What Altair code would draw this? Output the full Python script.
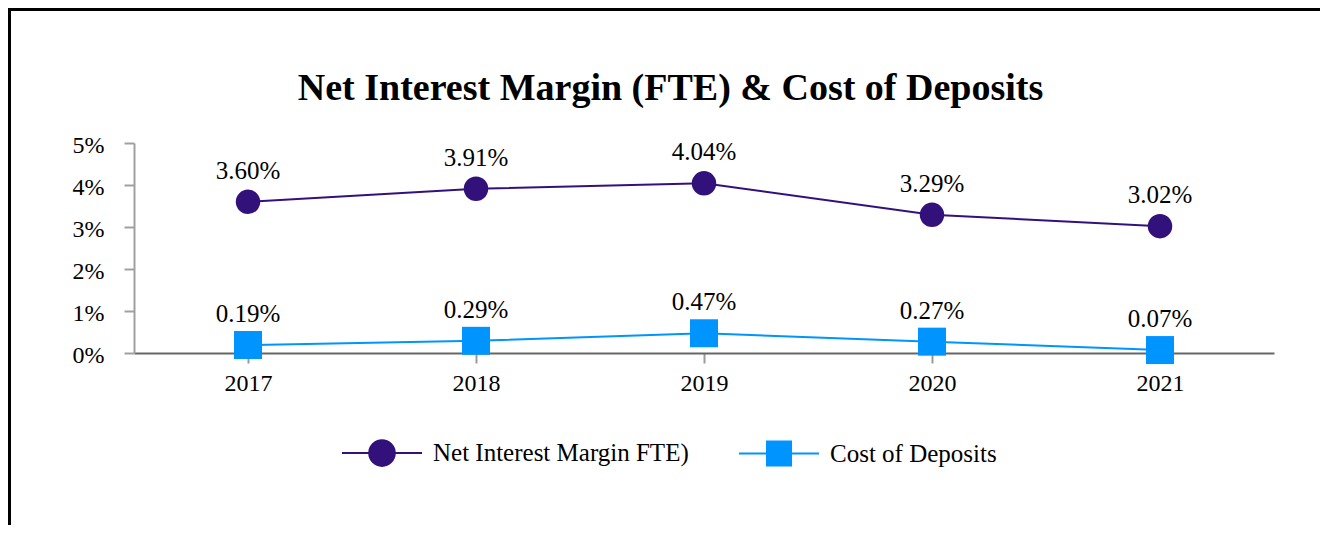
import altair as alt
import pandas as pd

years = ["2017", "2018", "2019", "2020", "2021"]
nim_values = [3.60, 3.91, 4.04, 3.29, 3.02]
cod_values = [0.19, 0.29, 0.47, 0.27, 0.07]
series_names = ["Net Interest Margin FTE)", "Cost of Deposits"]
series_colors = ["#33117a", "#0094ff"]
y_ticks = [0, 1, 2, 3, 4, 5]

FONT = "Liberation Serif"

df = pd.DataFrame({
    "year": years * 2,
    "value": nim_values + cod_values,
    "series": [series_names[0]] * len(years) + [series_names[1]] * len(years),
})

x_enc = alt.X("year:O", sort=years, scale=alt.Scale(type="point", padding=0.5),
              axis=alt.Axis(title=None, labelAngle=0, domainColor="#666666", domainWidth=2,
                            tickColor="#9a9a9a", tickWidth=2, tickSize=10,
                            labelFont=FONT, labelFontSize=24, labelColor="black",
                            labelPadding=8, grid=False))
y_enc = alt.Y("value:Q", scale=alt.Scale(domain=[0, 5], nice=False),
              axis=alt.Axis(title=None, values=y_ticks, labelExpr="datum.value + '%'",
                            domainColor="#a0a0a0", domainWidth=2, tickColor="#a0a0a0",
                            tickWidth=2, tickSize=10, labelFont=FONT, labelFontSize=24,
                            labelColor="black", labelPadding=20, labelOffset=2, grid=False))

base = alt.Chart(df).encode(x=x_enc, y=y_enc)

layers = []
shapes = ["circle", "square"]
sizes = [600, 784]
for name, col, shp, sz in zip(series_names, series_colors, shapes, sizes):
    sub = base.transform_filter(alt.datum.series == name)
    layers.append(sub.mark_line(color=col, strokeWidth=2))
    layers.append(sub.mark_point(shape=shp, filled=True, size=sz, color=col, opacity=1))
    layers.append(
        sub.transform_calculate(label="format(datum.value, '.2f') + '%'")
        .mark_text(font=FONT, fontSize=25, color="black", baseline="alphabetic", dy=-23)
        .encode(text="label:N")
    )

circle_path = ("M -1 0 L 1 0 M -0.32 0 A 0.32 0.32 0 1 0 0.32 0 "
               "A 0.32 0.32 0 1 0 -0.32 0 Z")
square_path = ("M -1 0 L 1 0 M -0.3 -0.3 L 0.3 -0.3 L 0.3 0.3 L -0.3 0.3 Z")

legend_def = alt.Legend(title=None, orient="none", legendX=207, legendY=269,
                        direction="horizontal", labelFont=FONT, labelFontSize=25,
                        labelColor="black", labelLimit=600, labelOffset=10,
                        columnPadding=46, symbolStrokeWidth=2, symbolSize=6400,
                        padding=0)
legend_layer = alt.Chart(df).transform_filter("false").mark_point(
    filled=True, size=6400, strokeWidth=2, opacity=1
).encode(
    fill=alt.Fill("series:N", scale=alt.Scale(domain=series_names, range=series_colors),
                  legend=legend_def),
    stroke=alt.Stroke("series:N", scale=alt.Scale(domain=series_names, range=series_colors),
                      legend=legend_def),
    shape=alt.Shape("series:N", scale=alt.Scale(domain=series_names,
                                                range=[circle_path, square_path]),
                    legend=legend_def),
)

frame_data = pd.DataFrame({"k": [0]})
frame_top = alt.Chart(frame_data).mark_rule(color="black", strokeWidth=3).encode(
    x=alt.value(-126), x2=alt.value(1200), y=alt.value(-133.5))
frame_left = alt.Chart(frame_data).mark_rule(color="black", strokeWidth=3).encode(
    x=alt.value(-124.5), y=alt.value(-133.5), y2=alt.value(382))

chart = alt.layer(*layers, legend_layer, frame_top, frame_left).properties(
    width=1140,
    height=210,
    title=alt.TitleParams("Net Interest Margin (FTE) & Cost of Deposits", font=FONT,
                          fontSize=38, fontWeight="bold", color="black", anchor="middle",
                          frame="group", dx=-33.5, baseline="alphabetic", offset=-130),
    padding={"left": 126, "top": 135, "right": 46, "bottom": 172},
    autosize=alt.AutoSizeParams(type="none"),
    background="white",
).configure_view(strokeWidth=0, stroke="transparent")

chart.save("out.html", embed_options={"renderer": "svg", "actions": False})
